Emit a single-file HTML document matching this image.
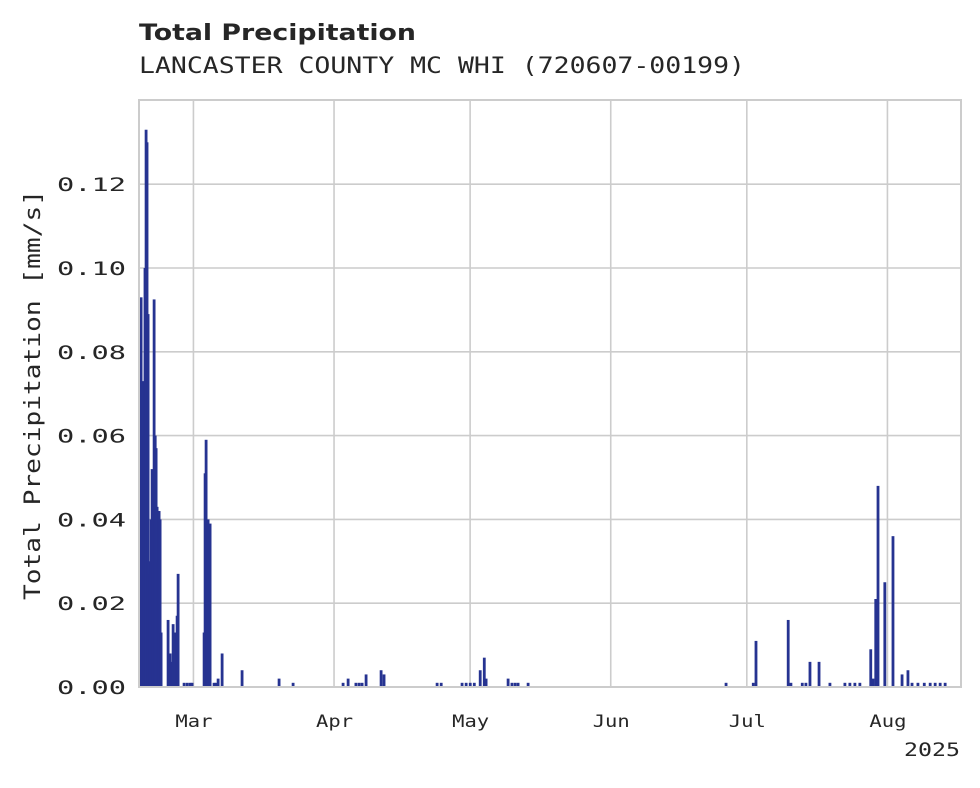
<!DOCTYPE html>
<html><head><meta charset="utf-8"><style>
body{margin:0;background:#fff;width:980px;height:783px;overflow:hidden}
svg text{fill:#262626}
</style></head><body>
<svg width="980" height="783" xmlns="http://www.w3.org/2000/svg">
<text x="139" y="40" font-family="DejaVu Sans, sans-serif" font-weight="bold" font-size="22" textLength="277" lengthAdjust="spacingAndGlyphs">Total Precipitation</text>
<text x="139" y="73" font-family="DejaVu Sans Mono, monospace" font-size="22" textLength="606" lengthAdjust="spacingAndGlyphs">LANCASTER COUNTY MC WHI (720607-00199)</text>
<g id="grid"></g>
<g id="bars"></g>
<rect x="139" y="100" width="822" height="587" fill="none" stroke="#cccccc" stroke-width="2"/>
<g id="yticks" font-family="DejaVu Sans Mono, monospace" font-size="19"></g>
<g id="xticks" font-family="DejaVu Sans Mono, monospace" font-size="17"></g>
<text x="904" y="756" font-family="DejaVu Sans Mono, monospace" font-size="19" textLength="56" lengthAdjust="spacingAndGlyphs">2025</text>
<text transform="translate(40,600) rotate(-90)" font-family="DejaVu Sans Mono, monospace" font-size="22" textLength="410" lengthAdjust="spacingAndGlyphs">Total Precipitation [mm/s]</text>
</svg>
<script>
const yTicks=[0,0.02,0.04,0.06,0.08,0.10,0.12];
const yTickLabels=["0.00","0.02","0.04","0.06","0.08","0.10","0.12"];
const monthDays=[12,43,73,104,134,165];
const monthLabels=["Mar","Apr","May","Jun","Jul","Aug"];
const eventDays=[0.2,0.44,0.7,0.88,1.1,1.3,1.54,1.75,1.98,2.2,2.43,2.65,2.87,3.1,3.31,3.55,3.75,3.97,4.2,4.41,4.63,4.85,6.39,6.83,7.2,7.5,7.94,8.38,8.6,9.92,10.6,11.24,11.68,14.33,14.55,14.77,15.0,15.21,15.65,16.53,16.98,17.42,18.3,22.7,30.86,33.95,44.97,46.08,47.8,48.5,49.16,50.04,53.35,54.0,65.7,66.6,71.2,72.1,73.0,73.9,75.2,76.1,76.5,81.35,82.2,82.9,83.55,85.76,129.4,135.4,136.0,143.1,143.7,146.2,147.0,147.9,149.9,152.3,155.6,156.7,157.8,158.9,161.3,161.8,162.4,162.9,164.4,166.2,168.2,169.5,170.4,171.7,173.1,174.4,175.5,176.6,177.7];
const eventValues=[0.04,0.093,0.05,0.073,0.06,0.1,0.133,0.13,0.089,0.03,0.027,0.04,0.052,0.05,0.0925,0.06,0.057,0.043,0.03,0.042,0.040,0.013,0.016,0.008,0.006,0.015,0.013,0.017,0.027,0.001,0.001,0.001,0.001,0.013,0.051,0.059,0.03,0.040,0.039,0.001,0.001,0.002,0.008,0.004,0.002,0.001,0.001,0.002,0.001,0.001,0.001,0.003,0.004,0.003,0.001,0.001,0.001,0.001,0.001,0.001,0.004,0.007,0.002,0.002,0.001,0.001,0.001,0.001,0.001,0.001,0.011,0.016,0.001,0.001,0.001,0.006,0.006,0.001,0.001,0.001,0.001,0.001,0.009,0.002,0.021,0.048,0.025,0.036,0.003,0.004,0.001,0.001,0.001,0.001,0.001,0.001,0.001];
const X0=139,PX=4.536,Y0=687,YS=83.8/0.02;
const xs=d=>X0+d*PX, ys=v=>Y0-v*YS;
const NS="http://www.w3.org/2000/svg";
const grid=document.getElementById('grid'),bars=document.getElementById('bars'),yt=document.getElementById('yticks'),xt=document.getElementById('xticks');
yTicks.forEach((v,i)=>{
 const l=document.createElementNS(NS,'line');
 l.setAttribute('x1',139);l.setAttribute('x2',961);l.setAttribute('y1',ys(v));l.setAttribute('y2',ys(v));
 l.setAttribute('stroke','#cccccc');l.setAttribute('stroke-width',1.6);
 
 
 grid.appendChild(l);
 const t=document.createElementNS(NS,'text');
 t.setAttribute('x',57);t.setAttribute('y',ys(v)+7);t.textContent=yTickLabels[i];
 t.setAttribute('textLength',69);t.setAttribute('lengthAdjust','spacingAndGlyphs');
 
 
 yt.appendChild(t);
});
monthDays.forEach((d,i)=>{
 const l=document.createElementNS(NS,'line');
 l.setAttribute('x1',xs(d));l.setAttribute('x2',xs(d));l.setAttribute('y1',100);l.setAttribute('y2',687);
 l.setAttribute('stroke','#cccccc');l.setAttribute('stroke-width',1.6);
 
 
 grid.appendChild(l);
 const t=document.createElementNS(NS,'text');
 t.setAttribute('x',xs(d)-18);t.setAttribute('y',727);t.textContent=monthLabels[i];
 t.setAttribute('textLength',37);t.setAttribute('lengthAdjust','spacingAndGlyphs');
 
 
 xt.appendChild(t);
});
eventDays.forEach((d,i)=>{
 const r=document.createElementNS(NS,'rect');
 const y=ys(eventValues[i]);
 r.setAttribute('x',xs(d)-1.3);r.setAttribute('width',2.8);r.setAttribute('y',y);r.setAttribute('height',Math.max(Y0-y,1.5));
 r.setAttribute('fill','#263391');
 
 
 bars.appendChild(r);
});
</script>
</body></html>
